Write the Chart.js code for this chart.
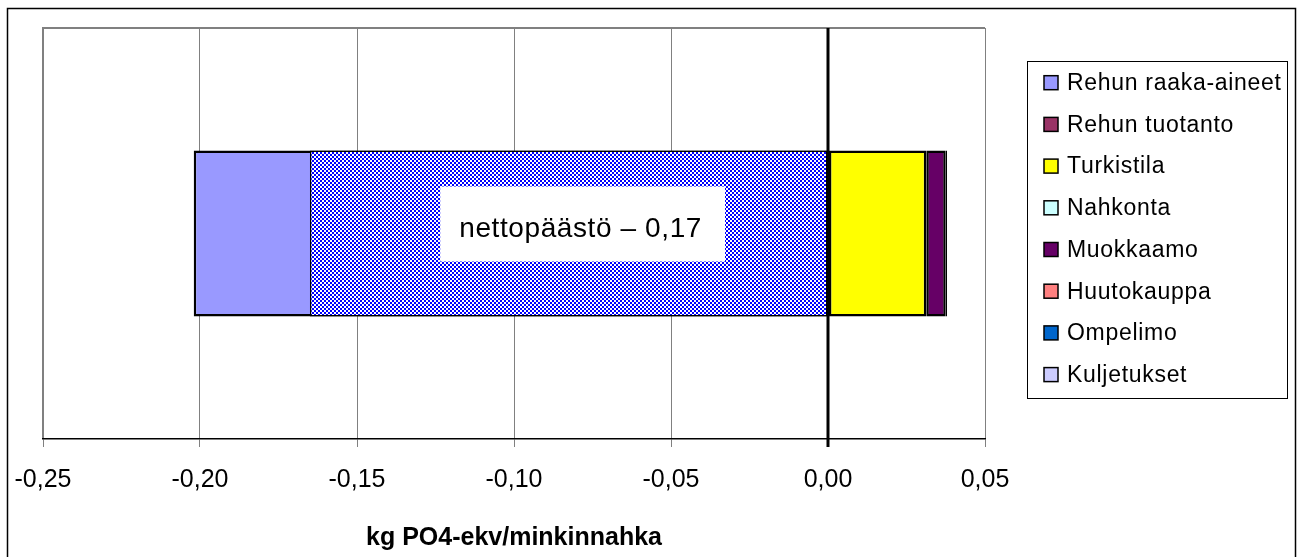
<!DOCTYPE html>
<html>
<head>
<meta charset="utf-8">
<script src="https://cdn.jsdelivr.net/npm/chart.js@4"></script>
<style>
  html, body { margin: 0; padding: 0; background: #fff; }
  #wrap { width: 1302px; height: 557px; position: relative; }
</style>
</head>
<body>
<div id="wrap"><canvas id="c" width="1302" height="557"></canvas></div>
<script>
// ---- data ----
const categories = [''];
const seriesNames = ['Rehun raaka-aineet', 'Rehun tuotanto', 'Turkistila', 'Nahkonta', 'Muokkaamo', 'Huutokauppa', 'Ompelimo', 'Kuljetukset'];
const seriesColors = ['#9999FF', '#993366', '#FFFF00', '#CCFFFF', '#660066', '#FF8080', '#0066CC', '#CCCCFF'];
const rehunRaakaAineet = [-0.202];
const rehunTuotanto = [0.0003];
const turkistila = [0.031];
const nahkonta = [0];
const muokkaamo = [0.0062];
const huutokauppa = [0];
const ompelimo = [0];
const kuljetukset = [0.0004];
const seriesValues = [rehunRaakaAineet, rehunTuotanto, turkistila, nahkonta, muokkaamo, huutokauppa, ompelimo, kuljetukset];
const netName = 'nettopäästö';
const netValue = [-0.165];
const netLabel = 'nettopäästö – 0,17';
const tickValues = [-0.25, -0.20, -0.15, -0.10, -0.05, 0.00, 0.05];
const axisTitle = 'kg PO4-ekv/minkinnahka';

// ---- pattern for net bar ----
function makePattern() {
  const pc = document.createElement('canvas');
  pc.width = 4; pc.height = 4;
  const p = pc.getContext('2d');
  p.fillStyle = '#ffffff'; p.fillRect(0, 0, 4, 4);
  p.fillStyle = '#0000FF';
  p.fillRect(0, 0, 2, 2); p.fillRect(2, 2, 2, 2);
  return document.getElementById('c').getContext('2d').createPattern(pc, 'repeat');
}
const netPattern = makePattern();

const FONT = '"Liberation Sans", Arial, sans-serif';
const fmt = v => (Math.abs(v) < 1e-9 ? 0 : v).toFixed(2).replace('.', ',');

const datasets = seriesNames.map((name, i) => ({
  label: name,
  data: seriesValues[i],
  backgroundColor: seriesColors[i],
  borderColor: '#000000',
  borderWidth: 2.5,
  borderSkipped: false,
  grouped: false,
  order: 2,
  stack: 's'
}));
datasets.push({
  label: netName,
  data: netValue,
  backgroundColor: netPattern,
  borderColor: '#000000',
  borderWidth: 1.5,
  borderSkipped: false,
  grouped: false,
  order: 1,
  stack: 'n'
});

const decorPlugin = {
  id: 'decor',
  beforeDraw(chart) {
    const ctx = chart.ctx;
    ctx.save();
    ctx.fillStyle = '#fff';
    ctx.fillRect(0, 0, chart.width, chart.height);
    ctx.strokeStyle = '#000';
    ctx.lineWidth = 1.5;
    ctx.beginPath();
    ctx.moveTo(7.5, 600); ctx.lineTo(7.5, 8.5); ctx.lineTo(1295.5, 8.5); ctx.lineTo(1295.5, 600);
    ctx.stroke();
    const a = chart.chartArea;
    ctx.strokeStyle = '#808080';
    ctx.lineWidth = 2;
    ctx.beginPath();
    ctx.moveTo(a.left, a.bottom); ctx.lineTo(a.left, a.top); ctx.lineTo(a.right, a.top);
    ctx.stroke();
    ctx.restore();
  },
  afterDatasetsDraw(chart) {
    const ctx = chart.ctx;
    const xs = chart.scales.x;
    const meta = chart.getDatasetMeta(chart.data.datasets.length - 1);
    const bar = meta.data[0];
    const cy = bar.y;
    // annotation box
    const bx0 = xs.getPixelForValue(-0.1235), bx1 = xs.getPixelForValue(-0.0328);
    ctx.save();
    ctx.fillStyle = '#fff';
    ctx.fillRect(bx0, cy - 47, bx1 - bx0, 75);
    ctx.fillStyle = '#000';
    ctx.font = '28px ' + FONT;
    ctx.letterSpacing = '0.6px';
    ctx.textAlign = 'left';
    ctx.textBaseline = 'middle';
    ctx.fillText(netLabel, bx0 + 19, cy - 4);
    ctx.letterSpacing = '0px';
    // zero line
    const x0 = xs.getPixelForValue(0);
    ctx.strokeStyle = '#000';
    ctx.lineWidth = 3;
    ctx.beginPath(); ctx.moveTo(x0, chart.chartArea.top); ctx.lineTo(x0, chart.chartArea.bottom + 8); ctx.stroke();
    ctx.restore();

    // legend
    ctx.save();
    const lx = 1027.5, ly = 61.5, lw = 260, lh = 337;
    ctx.strokeStyle = '#000'; ctx.lineWidth = 1;
    ctx.strokeRect(lx, ly, lw, lh);
    ctx.font = '23px ' + FONT;
    ctx.letterSpacing = '0.7px';
    ctx.textBaseline = 'middle';
    ctx.textAlign = 'left';
    seriesNames.forEach((name, i) => {
      const y = 82.7 + i * 41.7;
      ctx.fillStyle = seriesColors[i];
      ctx.fillRect(1044, y - 7, 14, 14);
      ctx.strokeStyle = '#000'; ctx.lineWidth = 1.5;
      ctx.strokeRect(1044, y - 7, 14, 14);
      ctx.fillStyle = '#000';
      ctx.fillText(name, 1067, y + 1);
    });
    ctx.letterSpacing = '0px';
    ctx.restore();
  }
};

new Chart(document.getElementById('c'), {
  type: 'bar',
  data: { labels: categories, datasets },
  plugins: [decorPlugin],
  options: {
    indexAxis: 'y',
    responsive: false,
    animation: false,
    events: [],
    layout: { padding: { left: 43, top: 28, right: 317, bottom: 0 } },
    plugins: { legend: { display: false }, tooltip: { enabled: false } },
    datasets: { bar: { barPercentage: 1, categoryPercentage: 0.404 } },
    scales: {
      x: {
        type: 'linear',
        min: -0.25, max: 0.05,
        stacked: true,
        afterBuildTicks: s => { s.ticks = tickValues.map(v => ({ value: v })); },
        afterFit: s => { s.height = 118; s.paddingLeft = 0; s.paddingRight = 0; },
        grid: {
          color: '#808080',
          lineWidth: 1,
          tickLength: 8,
          drawTicks: true
        },
        border: { display: true, color: '#000', width: 1.5 },
        ticks: {
          padding: 18,
          color: '#000',
          font: { family: FONT, size: 25 },
          callback: v => fmt(v),
          maxRotation: 0,
          autoSkip: false
        },
        title: {
          display: true,
          text: axisTitle,
          color: '#000',
          font: { family: FONT, size: 25, weight: 'bold' },
          padding: { top: 0, bottom: 4 }
        }
      },
      y: { type: 'category', stacked: true, display: false }
    }
  }
});
</script>
</body>
</html>
